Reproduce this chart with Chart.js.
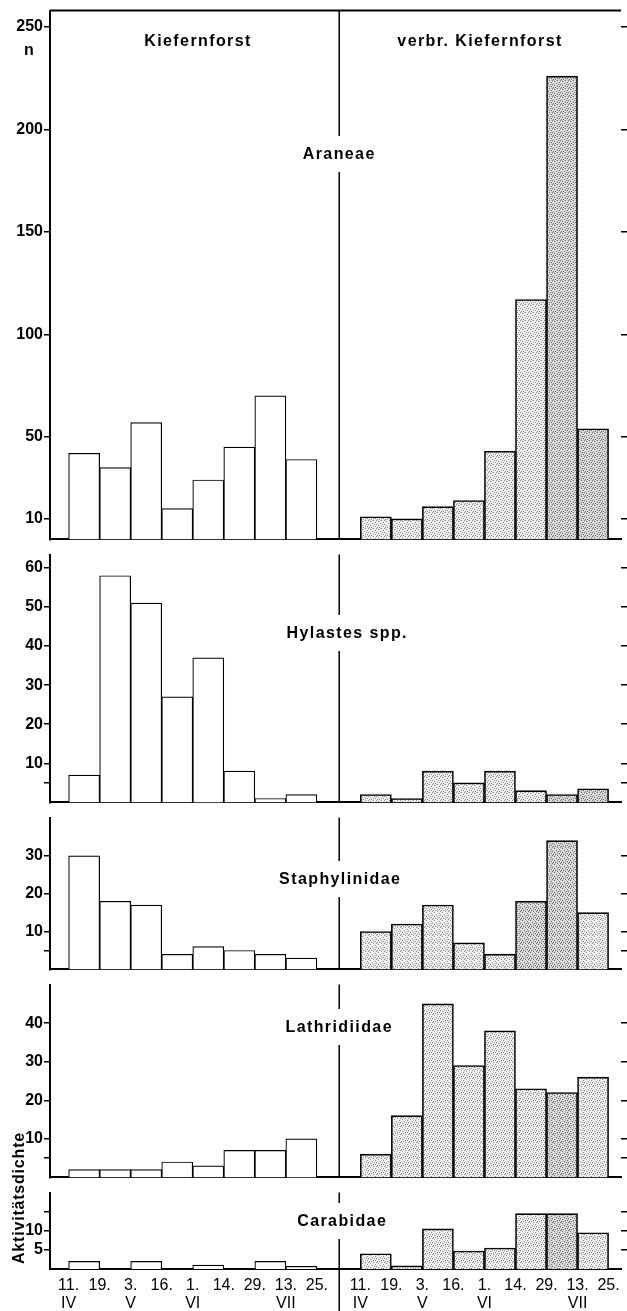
<!DOCTYPE html>
<html lang="de">
<head>
<meta charset="UTF-8">
<title>Aktivitätsdichte – Kiefernforst / verbr. Kiefernforst</title>
<script src="https://cdn.jsdelivr.net/npm/chart.js@4"></script>
<style>
    body {
        margin: 0;
        width: 627px;
        height: 1311px;
        overflow: hidden;
        position: relative;
        background: #fff;
        font-family: "Liberation Sans", Arial, sans-serif;
    }
    canvas {
        position: absolute;
        left: 0;
    }
    #ylabel {
        position: absolute;
        left: -61px;
        top: 1188px;
        width: 160px;
        height: 20px;
        line-height: 20px;
        text-align: center;
        font-size: 16px;
        font-weight: bold;
        letter-spacing: 0.8px;
        transform: rotate(-90deg);
        z-index: 10;
    }
</style>
</head>
<body>

<div id="ylabel">Aktivitätsdichte</div>

<script>
    // Fangdaten (Datum der Leerung) – Beschriftung an den Balkengrenzen
    const dates = ['11.', '19.', '3.', '16.', '1.', '14.', '29.', '13.', '25.'];
    const months = ['IV', '', 'V', '', 'VI', '', '', 'VII', ''];

    // Araneae
    const araneaeKiefer = [42, 35, 57, 15, 29, 45, 70, 39];
    const araneaeVerbr = [11, 10, 16, 19, 43, 117, 226, 54];
    const araneaeTicks = [10, 50, 100, 150, 200, 250];
    const araneaeLabels = [10, 50, 100, 150, 200, 250];

    // Hylastes spp.
    const hylastesKiefer = [7, 58, 51, 27, 37, 8, 1, 2];
    const hylastesVerbr = [2, 1, 8, 5, 8, 3, 2, 3.5];
    const hylastesTicks = [5, 10, 20, 30, 40, 50, 60];
    const hylastesLabels = [10, 20, 30, 40, 50, 60];

    // Staphylinidae
    const staphKiefer = [30, 18, 17, 4, 6, 5, 4, 3];
    const staphVerbr = [10, 12, 17, 7, 4, 18, 34, 15];
    const staphTicks = [5, 10, 20, 30];
    const staphLabels = [10, 20, 30];

    // Lathridiidae
    const lathrKiefer = [2, 2, 2, 4, 3, 7, 7, 10];
    const lathrVerbr = [6, 16, 45, 29, 38, 23, 22, 26];
    const lathrTicks = [5, 10, 20, 30, 40];
    const lathrLabels = [10, 20, 30, 40];

    // Carabidae
    const carabKiefer = [2, 0, 2, 0, 1, 0, 2, 0.7];
    const carabVerbr = [4, 0.8, 10.5, 4.7, 5.5, 14.5, 14.5, 9.5];
    const carabTicks = [5, 10, 15];
    const carabLabels = [5, 10];

    // x-Achse: linke Hälfte Balken 0..8, rechte Hälfte ab RIGHT0
    const X_MIN = -0.6;
    const X_MAX = 17.8;
    const RIGHT0 = 9.4;
    const DIVIDER = 8.72;
    const edges = dates.map((d, i) => i).concat(dates.map((d, i) => RIGHT0 + i));

    Chart.defaults.font.family = '"Liberation Sans", Arial, sans-serif';
    Chart.defaults.font.size = 16;
    Chart.defaults.font.weight = 'bold';
    Chart.defaults.color = '#000';

    // gepunktete Füllung für den verbrannten Kiefernforst (Raster hell / dunkel)
    function stipple(base, dot) {
        const c = document.createElement('canvas');
        c.width = 8;
        c.height = 8;
        const g = c.getContext('2d');
        g.fillStyle = base;
        g.fillRect(0, 0, 8, 8);
        g.fillStyle = dot;
        [[0, 0], [5, 0], [2, 1], [7, 2], [4, 3], [0, 4], [6, 4], [2, 5], [5, 6], [1, 7], [3, 7], [7, 6]]
            .forEach(p => g.fillRect(p[0], p[1], 1, 1));
        return g.createPattern(c, 'repeat');
    }
    const dotted = stipple('#efefef', '#8a8a8a');
    const dottedDark = stipple('#d6d6d6', '#6e6e6e');

    const deco = {
        id: 'panelDeco',
        afterDraw(chart, args, o) {
            const ctx = chart.ctx;
            const a = chart.chartArea;
            const xd = chart.scales.x.getPixelForValue(DIVIDER);
            ctx.save();
            ctx.strokeStyle = '#000';
            ctx.lineWidth = 1.5;
            ctx.beginPath();
            ctx.moveTo(xd, a.top);
            ctx.lineTo(xd, o.titleY - 19);
            ctx.moveTo(xd, o.titleY + 17);
            ctx.lineTo(xd, o.last ? chart.height : a.bottom);
            ctx.stroke();

            ctx.fillStyle = '#000';
            ctx.textAlign = 'center';
            ctx.textBaseline = 'middle';
            ctx.font = 'bold 16px "Liberation Sans", Arial, sans-serif';
            ctx.letterSpacing = '1.4px';
            ctx.fillText(o.title, xd + o.titleDx, o.titleY);

            if (o.header) {
                ctx.lineWidth = 2;
                ctx.beginPath();
                ctx.moveTo(a.left, a.top);
                ctx.lineTo(a.right, a.top);
                ctx.stroke();
                ctx.fillText('Kiefernforst', 198, 42);
                ctx.fillText('verbr. Kiefernforst', 480, 42);
                ctx.letterSpacing = '0px';
                ctx.fillText('n', 29, 51);
            }
            ctx.restore();
        }
    };

    function makePanel(p) {
        const canvas = document.createElement('canvas');
        canvas.width = 627;
        canvas.height = p.height;
        canvas.style.top = p.top + 'px';
        document.body.appendChild(canvas);

        const points = p.kiefer.map((v, i) => ({x: i + 0.5, y: v}))
            .concat(p.verbr.map((v, i) => ({x: RIGHT0 + i + 0.5, y: v})));
        const fills = p.kiefer.map(() => '#fff')
            .concat(p.verbr.map((v, i) => p.dark.includes(i) ? dottedDark : dotted));
        const widths = p.kiefer.map(() => 1.2).concat(p.verbr.map(() => 1.6));
        const setTicks = s => { s.ticks = p.ticks.map(v => ({value: v})); };

        new Chart(canvas, {
            type: 'bar',
            data: {
                datasets: [{
                    label: p.title,
                    data: points,
                    backgroundColor: fills,
                    borderColor: '#000',
                    borderWidth: widths,
                    barPercentage: 1,
                    categoryPercentage: 1
                }]
            },
            options: {
                responsive: false,
                animation: false,
                events: [],
                layout: {padding: {top: p.padTop, bottom: p.padBottom, left: 0, right: 0}},
                plugins: {
                    legend: {display: false},
                    tooltip: {enabled: false},
                    panelDeco: p
                },
                scales: {
                    x: {
                        type: 'linear',
                        min: X_MIN,
                        max: X_MAX,
                        offset: false,
                        afterBuildTicks: s => { s.ticks = edges.map(v => ({value: v})); },
                        afterFit: s => { s.height = p.last ? 42 : 0; },
                        ticks: {
                            display: !!p.last,
                            autoSkip: false,
                            maxRotation: 0,
                            padding: 0,
                            font: {weight: 'normal', lineHeight: 1.1},
                            callback: (v, i) => [dates[i % 9], months[i % 9]]
                        },
                        grid: {display: false},
                        border: {display: true, color: '#000', width: 2}
                    },
                    y: {
                        min: 0,
                        max: p.max,
                        afterBuildTicks: setTicks,
                        afterFit: s => { s.width = 50; },
                        ticks: {
                            padding: 1,
                            callback: v => p.labels.includes(v) ? String(v) : ''
                        },
                        grid: {drawOnChartArea: false, color: '#000', lineWidth: 1.5, tickLength: 6},
                        border: {display: true, color: '#000', width: 2}
                    },
                    yr: {
                        position: 'right',
                        min: 0,
                        max: p.max,
                        afterBuildTicks: setTicks,
                        afterFit: s => { s.width = 6; },
                        ticks: {display: false},
                        grid: {drawOnChartArea: false, color: '#000', lineWidth: 1.5, tickLength: 6},
                        border: {display: false}
                    }
                }
            },
            plugins: [deco]
        });
    }

    makePanel({title: 'Araneae', kiefer: araneaeKiefer, verbr: araneaeVerbr, ticks: araneaeTicks, labels: araneaeLabels,
        max: 258, top: 0, height: 550, padTop: 7, padBottom: 3, titleY: 155, titleDx: 0, header: true, dark: [6, 7]});
    makePanel({title: 'Hylastes spp.', kiefer: hylastesKiefer, verbr: hylastesVerbr, ticks: hylastesTicks, labels: hylastesLabels,
        max: 63.4, top: 544, height: 269, padTop: 3, padBottom: 3, titleY: 90, titleDx: 8, dark: [6, 7]});
    makePanel({title: 'Staphylinidae', kiefer: staphKiefer, verbr: staphVerbr, ticks: staphTicks, labels: staphLabels,
        max: 40.1, top: 807, height: 173, padTop: 3, padBottom: 3, titleY: 73, titleDx: 1, dark: [5, 6]});
    makePanel({title: 'Lathridiidae', kiefer: lathrKiefer, verbr: lathrVerbr, ticks: lathrTicks, labels: lathrLabels,
        max: 50, top: 974, height: 214, padTop: 3, padBottom: 3, titleY: 54, titleDx: 0, dark: [6]});
    makePanel({title: 'Carabidae', kiefer: carabKiefer, verbr: carabVerbr, ticks: carabTicks, labels: carabLabels,
        max: 20, top: 1182, height: 129, padTop: 3, padBottom: 0, titleY: 40, titleDx: 3, last: true, dark: [6]});
</script>
</body>
</html>
